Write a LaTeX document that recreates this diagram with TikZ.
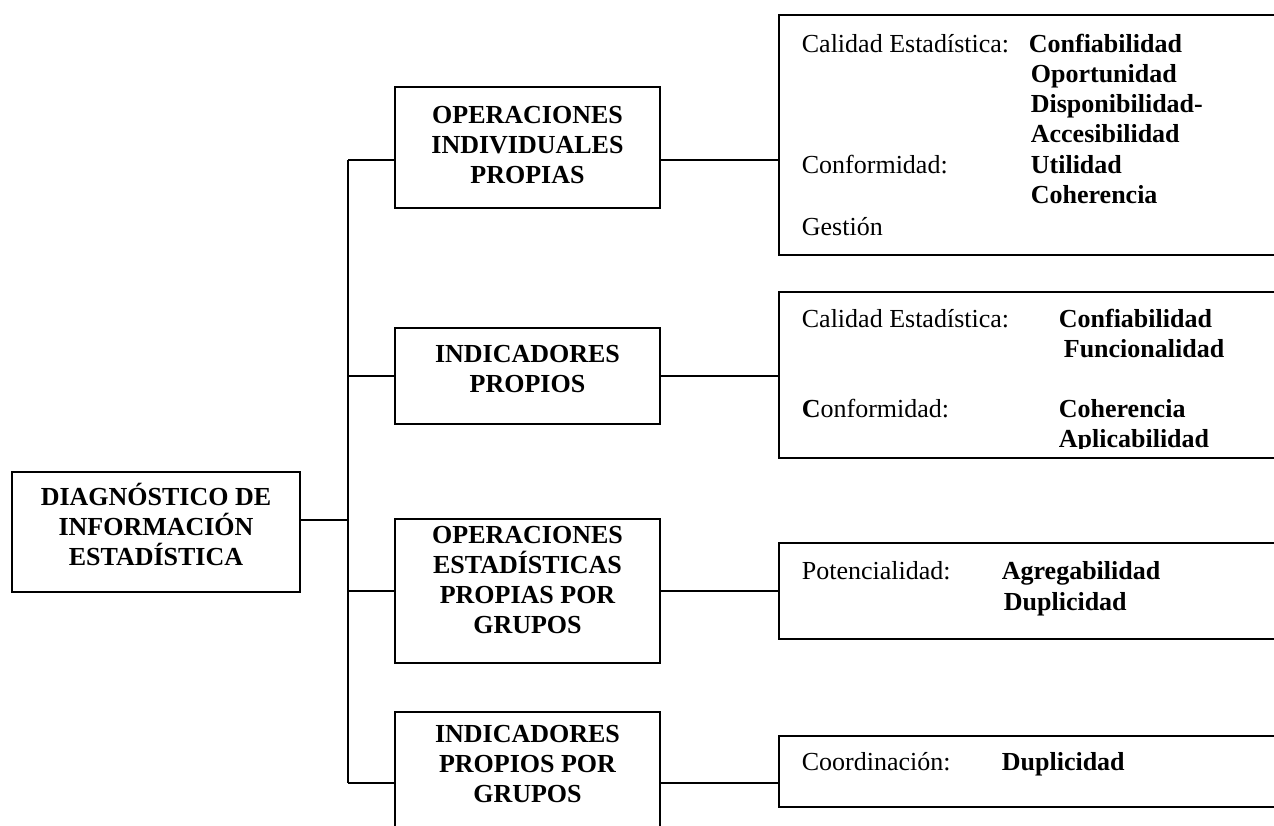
\documentclass[tikz,border=0pt]{standalone}
\usepackage{fontspec}
\setmainfont{Liberation Serif}
\begin{document}
\begin{tikzpicture}[x=0.75pt,y=-0.75pt,line width=1.3pt,
  box/.style={draw,rectangle,inner sep=0pt},
  midtext/.style={align=center,inner sep=0pt,
    font=\fontsize{19.5}{22.5}\selectfont\bfseries,
    execute at begin node=\strut,execute at end node=\strut},
  lab/.style={anchor=base west,inner sep=0pt,font=\fontsize{19.5}{22.5}\selectfont},
  val/.style={anchor=base west,inner sep=0pt,font=\fontsize{19.5}{22.5}\selectfont\bfseries},
  link/.style={line width=1.3pt}]
\clip (0,0) rectangle (1274,825);
\fill[white] (0,0) rectangle (1274,825);

% left / middle boxes
\node[box,minimum width=216pt,minimum height=90pt] (root) at (156,532) {};
\node[midtext] (roott) at (156,529) {DIAGNÓSTICO DE\\INFORMACIÓN\\ESTADÍSTICA};

\node[box,minimum width=198.75pt,minimum height=90.75pt] (b1) at (527.5,147.5) {};
\node[midtext] (b1t) at (527.5,149) {OPERACIONES\\INDIVIDUALES\\PROPIAS};

\node[box,minimum width=198.75pt,minimum height=72pt] (b2) at (527.5,376) {};
\node[midtext] (b2t) at (527.5,373) {INDICADORES\\PROPIOS};

\node[box,minimum width=198.75pt,minimum height=108pt] (b3) at (527.5,591) {};
\node[midtext] (b3t) at (527.5,584.5) {OPERACIONES\\ESTADÍSTICAS\\PROPIAS POR\\GRUPOS};

\node[box,minimum width=198.75pt,minimum height=107.25pt] (b4) at (527.5,783.5) {};
\node[midtext] (b4t) at (527.5,768) {INDICADORES\\PROPIOS POR\\GRUPOS};

% right boxes
\node[box,minimum width=390.75pt,minimum height=180pt] (r1) at (1039.5,135) {};
\node[box,minimum width=390.75pt,minimum height=124.5pt] (r2) at (1039.5,375) {};
\node[box,minimum width=390.75pt,minimum height=72pt] (r3) at (1039.5,591) {};
\node[box,minimum width=390.75pt,minimum height=53.25pt] (r4) at (1039.5,771.5) {};

% connectors
\coordinate (tt) at (348,160);
\coordinate (tb) at (348,783);
\coordinate (tj) at (348,520);
\draw[link] (tt) -- (tb);
\draw[link] (root.east |- tj) -- (tj);
\draw[link] (b1.west |- tt) -- (tt);
\draw[link] (b2.west) -- (b2.west -| tt);
\draw[link] (b3.west) -- (b3.west -| tt);
\draw[link] (b4.west |- tb) -- (tb);
\draw[link] (b1.east |- tt) -- (r1.west |- tt);
\draw[link] (b2.east) -- (r2.west |- b2.east);
\draw[link] (b3.east) -- (r3.west |- b3.east);
\draw[link] (b4.east |- tb) -- (r4.west |- tb);

% texts of right box 1
\node[lab] (l11) at (801,52) {Calidad Estadística:};
\node[val] (v11) at (1028,52) {Confiabilidad};
\node[val] (v12) at (1030,82) {Oportunidad};
\node[val] (v13) at (1030,112) {Disponibilidad-};
\node[val] (v14) at (1030,142) {Accesibilidad};
\node[lab] (l12) at (801,173) {Conformidad:};
\node[val] (v15) at (1030,173) {Utilidad};
\node[val] (v16) at (1030,203) {Coherencia};
\node[lab] (l13) at (801,235) {Gestión};

% texts of right box 2
\node[lab] (l21) at (801,327) {Calidad Estadística:};
\node[val] (v21) at (1058,327) {Confiabilidad};
\node[val] (v22) at (1063,357) {Funcionalidad};
\node[lab] (l22) at (801,417) {\textbf{C}onformidad:};
\node[val] (v23) at (1058,417) {Coherencia};
\begin{scope}
\clip (779,292) rectangle (1274,448);
\node[val] (v24) at (1058,447) {Aplicabilidad};
\end{scope}

% texts of right box 3
\node[lab] (l31) at (801,579) {Potencialidad:};
\node[val] (v31) at (1001,579) {Agregabilidad};
\node[val] (v32) at (1003,610) {Duplicidad};

% texts of right box 4
\node[lab] (l41) at (801,770) {Coordinación:};
\node[val] (v41) at (1001,770) {Duplicidad};
\end{tikzpicture}
\end{document}
